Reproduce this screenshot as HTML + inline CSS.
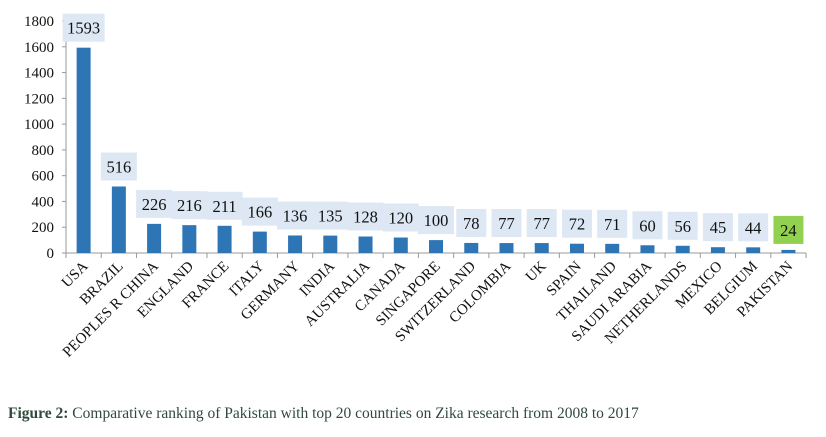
<!DOCTYPE html>
<html><head><meta charset="utf-8"><style>
body{margin:0;background:#fff;}
svg text{font-family:"Liberation Serif",serif;}
</style></head><body>
<svg id="chart" width="826" height="432">
<g id="axes"></g><g id="bars"></g>
<text x="8" y="418" font-size="15.5" fill="#2f4a3c"><tspan font-weight="bold">Figure 2:</tspan>  Comparative ranking of Pakistan with top 20 countries on Zika research from 2008 to 2017</text>
</svg>
<script>
const categories=["USA","BRAZIL","PEOPLES R CHINA","ENGLAND","FRANCE","ITALY","GERMANY","INDIA","AUSTRALIA","CANADA","SINGAPORE","SWITZERLAND","COLOMBIA","UK","SPAIN","THAILAND","SAUDI ARABIA","NETHERLANDS","MEXICO","BELGIUM","PAKISTAN"];
const values=[1593,516,226,216,211,166,136,135,128,120,100,78,77,77,72,71,60,56,45,44,24];
const yTicks=[0,200,400,600,800,1000,1200,1400,1600,1800];
const NS="http://www.w3.org/2000/svg";
const x0=66,step=35.24,yBase=253,yTop=21,yMax=1800;
function y(v){return yBase-(v/yMax)*(yBase-yTop);}
function xc(i){return x0+step*(i+0.5);}
function mk(t,a,p){const e=document.createElementNS(NS,t);for(const k in a)e.setAttribute(k,a[k]);p.appendChild(e);return e;}
const ax=document.getElementById('axes'),bg=document.getElementById('bars');
const yl=mk('line',{x1:x0,y1:yTop,x2:x0,y2:yBase,stroke:'#999'},ax);


const xl=mk('line',{x1:x0,y1:yBase,x2:x0+step*categories.length,y2:yBase,stroke:'#999'},ax);


yTicks.forEach(v=>{
 mk('line',{x1:x0-4,x2:x0,y1:y(v),y2:y(v),stroke:'#999'},ax);
 const t=mk('text',{x:x0-12,y:y(v)+5,'text-anchor':'end','font-size':15,fill:'#111'},ax);
 t.textContent=v;
 
 
});
for(let i=0;i<=categories.length;i++){mk('line',{x1:x0+step*i,x2:x0+step*i,y1:yBase,y2:yBase+5,stroke:'#999'},ax);}
categories.forEach((c,i)=>{
 const cx=xc(i),top=y(values[i]);
 const b=mk('rect',{x:cx-7,y:top,width:14,height:yBase-top,fill:'#2e75b6'},bg);
 
 
 const txt=String(values[i]);
 const w=txt.length>3?42:(txt.length>2?36:30);
 const last=i===categories.length-1;
 const bb=top-6;
 const r=mk('rect',{x:cx-w/2,y:bb-28,width:w,height:28,fill:last?'#92d050':'#dde8f4'},bg);
 
 
 const t=mk('text',{x:cx,y:bb-8,'text-anchor':'middle','font-size':16.5,fill:'#111'},bg);
 t.textContent=txt;
 
 
 const l=mk('text',{x:cx+5,y:267,'text-anchor':'end','font-size':15,fill:'#111',transform:`rotate(-45 ${cx+5} 267)`},bg);
 l.textContent=c;
 
 
});
</script>
</body></html>
